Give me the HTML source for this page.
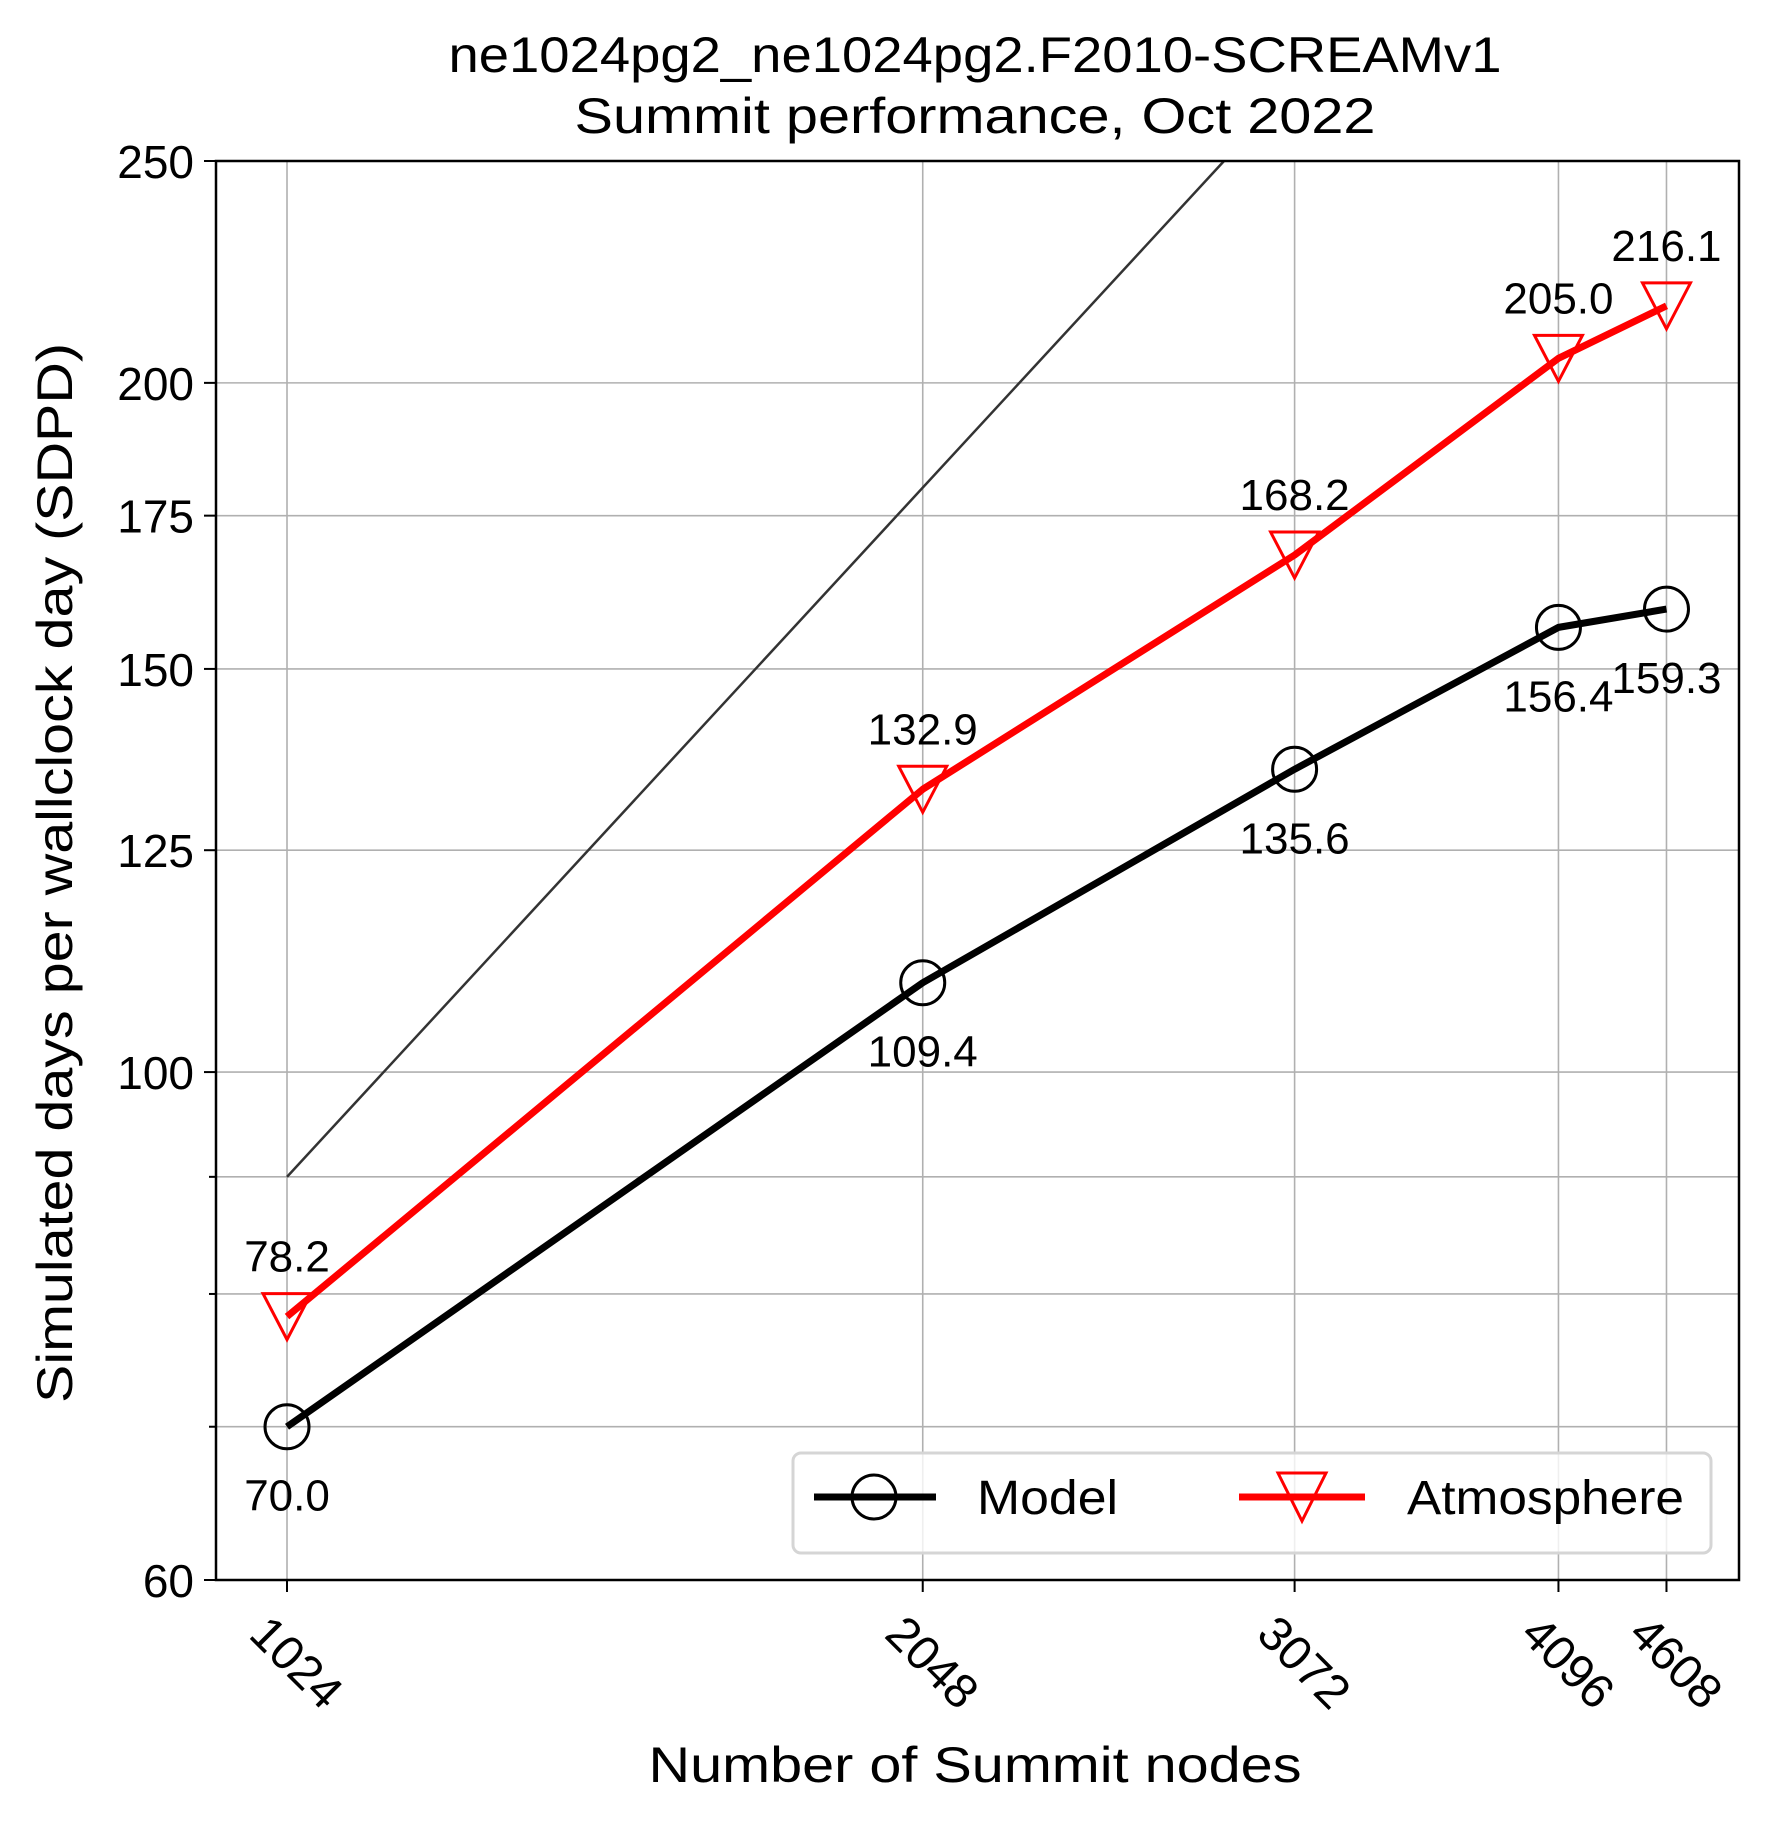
<!DOCTYPE html>
<html><head><meta charset="utf-8"><style>
html,body{margin:0;padding:0;background:#fff}
svg{display:block;font-family:"Liberation Sans",sans-serif}
</style></head><body>
<svg id="chart" width="1770" height="1829" viewBox="0 0 1770 1829" xmlns="http://www.w3.org/2000/svg">
<rect width="1770" height="1829" fill="#fff"/>
<text x="975" y="72" text-anchor="middle" font-size="50" textLength="1053" lengthAdjust="spacingAndGlyphs">ne1024pg2_ne1024pg2.F2010-SCREAMv1</text>
<text x="975" y="133" text-anchor="middle" font-size="50" textLength="801" lengthAdjust="spacingAndGlyphs">Summit performance, Oct 2022</text>
<g id="grid"></g>
<g id="marks"></g>
<g id="axes"></g>
<text transform="translate(72,873) rotate(-90)" text-anchor="middle" font-size="50" textLength="1060" lengthAdjust="spacingAndGlyphs">Simulated days per wallclock day (SDPD)</text>
<text x="975" y="1782" text-anchor="middle" font-size="50" textLength="653" lengthAdjust="spacingAndGlyphs">Number of Summit nodes</text>
<g>
<rect x="793" y="1453" width="918" height="100" rx="8" fill="#fff" fill-opacity="0.8" stroke="#d5d5d5" stroke-width="3"/>
<line x1="814" y1="1497" x2="936" y2="1497" stroke="#000" stroke-width="7"/>
<circle cx="874" cy="1497" r="22" fill="none" stroke="#000" stroke-width="3"/>
<text x="977" y="1514" font-size="48" textLength="141" lengthAdjust="spacingAndGlyphs">Model</text>
<line x1="1239" y1="1497" x2="1365" y2="1497" stroke="#f00" stroke-width="7"/>
<path d="M1278,1473 L1326,1473 L1302,1521 Z" fill="none" stroke="#f00" stroke-width="3"/>
<text x="1407" y="1514" font-size="48" textLength="277" lengthAdjust="spacingAndGlyphs">Atmosphere</text>
</g>
</svg>
<script>
const nodes = [1024, 2048, 3072, 4096, 4608];
const modelVals = [70.0, 109.4, 135.6, 156.4, 159.3];
const atmVals = [78.2, 132.9, 168.2, 205.0, 216.1];
const yTicks = [60, 100, 125, 150, 175, 200, 250];
const yMinor = [70, 80, 90];
const idealStart = 90;

const L=216, R=1739, T=161, B=1580;
const xMin=Math.log2(1024)-0.1117, xMax=Math.log2(1024)+2.284;
const yMin=Math.log(60), yMax=Math.log(250);
function X(v){return L+(Math.log2(v)-xMin)/(xMax-xMin)*(R-L);}
function Y(v){return B-(Math.log(v)-yMin)/(yMax-yMin)*(B-T);}
const NS="http://www.w3.org/2000/svg";
function mk(tag,attrs,parent){const e=document.createElementNS(NS,tag);for(const k in attrs)e.setAttribute(k,attrs[k]);parent.appendChild(e);return e;}
const grid=document.getElementById('grid'),marks=document.getElementById('marks'),axes=document.getElementById('axes');

nodes.forEach(n=>{
  const g=mk('line',{x1:X(n),x2:X(n),y1:T,y2:B,stroke:'#b0b0b0','stroke-width':1.6},grid);
  
  
  const t=mk('line',{x1:X(n),x2:X(n),y1:B,y2:B+12,stroke:'#000','stroke-width':2},axes);
  
  
  const lb=mk('text',{transform:`translate(${X(n)-2},${B+94}) rotate(45)`,'text-anchor':'middle','font-size':48},axes);
  lb.textContent=n;
  
  
});
yTicks.concat(yMinor).forEach(v=>{
  const major=yTicks.includes(v);
  const g=mk('line',{x1:L,x2:R,y1:Y(v),y2:Y(v),stroke:'#b0b0b0','stroke-width':1.6},grid);
  
  
  const t=mk('line',{x1:L-(major?12:7),x2:L,y1:Y(v),y2:Y(v),stroke:'#000','stroke-width':2},axes);
  
  
  if(major){
    const lb=mk('text',{x:L-22,y:Y(v)+17,'text-anchor':'end','font-size':46},axes);
    lb.textContent=v;
    
    
  }
});
const frame=mk('rect',{x:L,y:T,width:R-L,height:B-T,fill:'none',stroke:'#000','stroke-width':2.5},axes);



const x2=1024*250/idealStart;
const ideal=mk('line',{x1:X(1024),y1:Y(idealStart),x2:X(x2),y2:Y(250),stroke:'#333','stroke-width':2.5},marks);



function series(vals,color,name,labelOff,marker){
  const pts=nodes.map((n,i)=>X(n)+','+Y(vals[i])).join(' ');
  const pl=mk('polyline',{points:pts,fill:'none',stroke:color,'stroke-width':7,'stroke-linejoin':'round'},marks);
  
  
  nodes.forEach((n,i)=>{
    const cx=X(n),cy=Y(vals[i]);
    let m;
    if(marker==='circle') m=mk('circle',{cx:cx,cy:cy,r:22,fill:'none',stroke:color,'stroke-width':3},marks);
    else m=mk('path',{d:`M${cx-24},${cy-23} L${cx+24},${cy-23} L${cx},${cy+23} Z`,fill:'none',stroke:color,'stroke-width':3},marks);
    
    
    const lb=mk('text',{x:cx,y:cy+labelOff+16,'text-anchor':'middle','font-size':44},marks);
    lb.textContent=vals[i].toFixed(1);
    
    
  });
}
series(atmVals,'#f00','atmosphere',-61,'tri');
series(modelVals,'#000','model',68,'circle');
</script>
</body></html>
